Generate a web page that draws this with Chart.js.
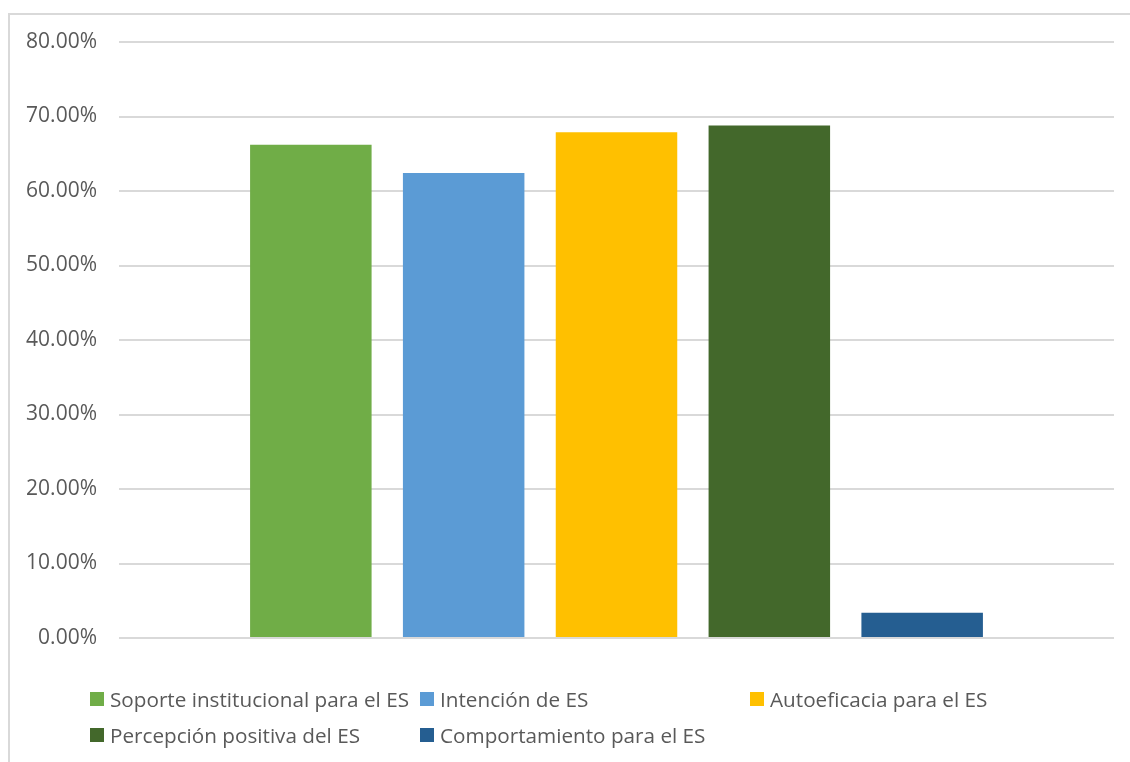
<!DOCTYPE html>
<html>
<head>
<meta charset="utf-8">
<script src="https://cdn.jsdelivr.net/npm/chart.js@4"></script>
<style>
  html, body { margin: 0; padding: 0; background: #fff; }
  #wrap { position: relative; width: 1130px; height: 762px; overflow: hidden; }
  #frame { position: absolute; left: 8px; top: 13px; width: 1200px; height: 800px;
           border-left: 2px solid #d9d9d9; border-top: 2px solid #d9d9d9; box-sizing: border-box; }
  #chart { position: absolute; left: 0; top: 0; }
  #legend { position: absolute; left: 90px; top: 689px; display: grid;
            grid-template-columns: 330px 330px 330px; row-gap: 16px;
            font-family: "Open Sans", sans-serif; font-size: 20.7px; color: #595959; }
  #legend .item { display: flex; align-items: center; height: 20px; white-space: nowrap; }
  #legend .box { width: 14px; height: 14px; margin-right: 6px; flex: none; }
</style>
</head>
<body>
<div id="wrap">
  <div id="frame"></div>
  <canvas id="chart" width="1130" height="762"></canvas>
  <div id="legend"></div>
</div>
<script>
const categories = [""];
const seriesNames = [
  "Soporte institucional para el ES",
  "Intención de ES",
  "Autoeficacia para el ES",
  "Percepción positiva del ES",
  "Comportamiento para el ES"
];
const seriesValues = [66.2, 62.4, 67.9, 68.8, 3.4];
const seriesColors = ["#70ad47", "#5b9bd5", "#ffc000", "#43682b", "#255e91"];
const yTicks = [0, 10, 20, 30, 40, 50, 60, 70, 80];

const datasets = seriesNames.map(function(name, i){
  return {
    label: name,
    data: [seriesValues[i]],
    backgroundColor: seriesColors[i],
    categoryPercentage: 0.768,
    barPercentage: 0.795
  };
});

const chart = new Chart(document.getElementById("chart"), {
  type: "bar",
  data: { labels: categories, datasets: datasets },
  options: {
    responsive: false,
    animation: false,
    layout: { padding: { top: 42, right: 16, bottom: 124, left: 0 } },
    plugins: { legend: { display: false }, tooltip: { enabled: false } },
    scales: {
      x: { display: false },
      y: {
        min: 0,
        max: 80,
        afterFit: function(scale){ scale.width = 119; },
        afterBuildTicks: function(scale){
          scale.ticks = yTicks.map(function(v){ return { value: v }; });
        },
        border: { display: false },
        grid: { color: "#d9d9d9", lineWidth: 2, drawTicks: false },
        ticks: {
          padding: 22,
          color: "#595959",
          font: { family: "'Open Sans', sans-serif", size: 21 },
          callback: function(v){ return v.toFixed(2) + "%"; }
        }
      }
    }
  }
});

// legend laid out in three columns like the spreadsheet version
const legendEl = document.getElementById("legend");
chart.data.datasets.forEach(function(ds){
  const item = document.createElement("div");
  item.className = "item";
  const box = document.createElement("span");
  box.className = "box";
  box.style.background = ds.backgroundColor;
  const txt = document.createElement("span");
  txt.textContent = ds.label;
  item.appendChild(box);
  item.appendChild(txt);
  legendEl.appendChild(item);
});
</script>
</body>
</html>
